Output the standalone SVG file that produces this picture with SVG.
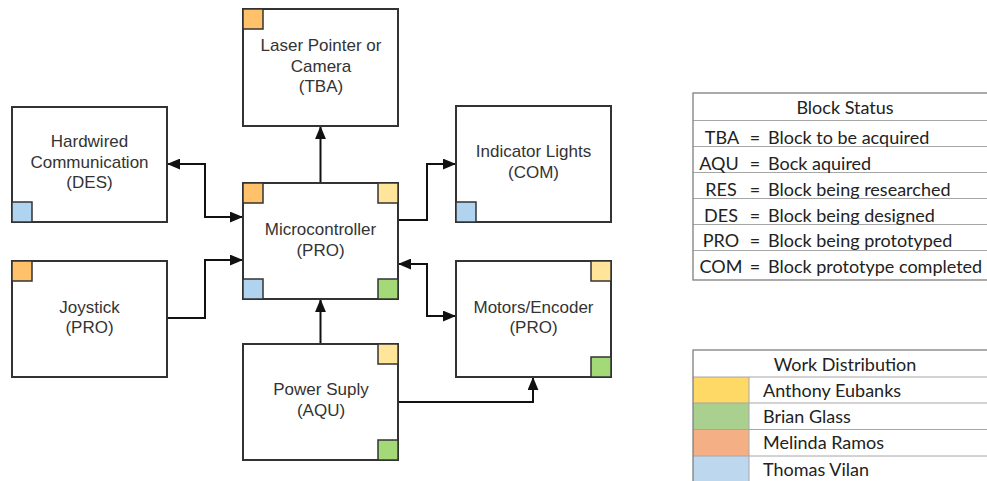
<svg xmlns="http://www.w3.org/2000/svg" width="987" height="481" viewBox="0 0 987 481">
<style>
.box{fill:#fff;stroke:#333;stroke-width:2}
.sq{stroke:#333;stroke-width:1.5}
.or{fill:#FFC16A}
.ye{fill:#FFE599}
.gr{fill:#A3D977}
.bl{fill:#B0D4EF}
.lbl{font-family:"Liberation Sans",Arial,sans-serif;font-size:17px;fill:#333;text-anchor:middle}
.wire{fill:none;stroke:#111;stroke-width:2}
.tt{font-family:Lato,"Open Sans",sans-serif;font-size:18px;fill:#222}
.tline{stroke:#a6a6a6;stroke-width:1}
.tbord{fill:none;stroke:#7f7f7f;stroke-width:1.3}
</style>
<defs>
<marker id="ah" viewBox="0 0 12 10" refX="12" refY="5" markerWidth="13" markerHeight="11" markerUnits="userSpaceOnUse" orient="auto-start-reverse">
<path d="M0,0 L12,5 L0,10 Z" fill="#111"/>
</marker>
</defs>

<g id="connectors">
<path class="wire" d="M320.5,183 L320.5,126" marker-end="url(#ah)"/>
<path class="wire" d="M167,164 L205,164 L205,217 L243,217" marker-start="url(#ah)" marker-end="url(#ah)"/>
<path class="wire" d="M398,220 L427,220 L427,164 L456,164" marker-end="url(#ah)"/>
<path class="wire" d="M167,318 L205,318 L205,260 L243,260" marker-end="url(#ah)"/>
<path class="wire" d="M320.5,344 L320.5,299" marker-end="url(#ah)"/>
<path class="wire" d="M398,264 L427,264 L427,316 L456,316" marker-start="url(#ah)" marker-end="url(#ah)"/>
<path class="wire" d="M398,402 L533,402 L533,377" marker-end="url(#ah)"/>
</g>

<g id="laser">
<rect class="box" x="243" y="9" width="155" height="117"/>
<rect class="sq or" x="243" y="9" width="20" height="20"/>
<text class="lbl" x="321" y="51">Laser Pointer or</text>
<text class="lbl" x="321" y="71.5">Camera</text>
<text class="lbl" x="321" y="92">(TBA)</text>
</g>

<g id="hardwired">
<rect class="box" x="12" y="107" width="155" height="115"/>
<rect class="sq bl" x="12" y="202" width="20" height="20"/>
<text class="lbl" x="89.5" y="147">Hardwired</text>
<text class="lbl" x="89.5" y="167.5">Communication</text>
<text class="lbl" x="89.5" y="188">(DES)</text>
</g>

<g id="microcontroller">
<rect class="box" x="243" y="183" width="155" height="116"/>
<rect class="sq or" x="243" y="183" width="20" height="20"/>
<rect class="sq ye" x="378" y="183" width="20" height="20"/>
<rect class="sq bl" x="243" y="279" width="20" height="20"/>
<rect class="sq gr" x="378" y="279" width="20" height="20"/>
<text class="lbl" x="320.5" y="235">Microcontroller</text>
<text class="lbl" x="320.5" y="255.5">(PRO)</text>
</g>

<g id="indicator">
<rect class="box" x="456" y="106" width="155" height="116"/>
<rect class="sq bl" x="456" y="202" width="20" height="20"/>
<text class="lbl" x="533.5" y="157">Indicator Lights</text>
<text class="lbl" x="533.5" y="177.5">(COM)</text>
</g>

<g id="joystick">
<rect class="box" x="12" y="261" width="155" height="116"/>
<rect class="sq or" x="12" y="261" width="20" height="20"/>
<text class="lbl" x="89.5" y="312.5">Joystick</text>
<text class="lbl" x="89.5" y="333">(PRO)</text>
</g>

<g id="motors">
<rect class="box" x="456" y="261" width="155" height="116"/>
<rect class="sq ye" x="591" y="261" width="20" height="20"/>
<rect class="sq gr" x="591" y="357" width="20" height="20"/>
<text class="lbl" x="533.5" y="312.5">Motors/Encoder</text>
<text class="lbl" x="533.5" y="333">(PRO)</text>
</g>

<g id="power">
<rect class="box" x="243" y="344" width="155" height="116"/>
<rect class="sq ye" x="378" y="344" width="20" height="20"/>
<rect class="sq gr" x="378" y="440" width="20" height="20"/>
<text class="lbl" x="321" y="395">Power Suply</text>
<text class="lbl" x="321" y="415.5">(AQU)</text>
</g>

<g id="block-status">
<rect x="693" y="93" width="310" height="187" fill="#fff"/>
<line class="tline" x1="693" y1="120.5" x2="1003" y2="120.5"/>
<line class="tline" x1="693" y1="146.5" x2="1003" y2="146.5"/>
<line class="tline" x1="693" y1="172.5" x2="1003" y2="172.5"/>
<line class="tline" x1="693" y1="198.5" x2="1003" y2="198.5"/>
<line class="tline" x1="693" y1="224.5" x2="1003" y2="224.5"/>
<line class="tline" x1="693" y1="250.5" x2="1003" y2="250.5"/>
<rect class="tbord" x="693" y="93" width="310" height="187"/>
<text class="tt" x="845" y="114" text-anchor="middle">Block Status</text>
<g text-anchor="middle">
<text class="tt" x="722" y="144">TBA</text>
<text class="tt" x="719" y="170">AQU</text>
<text class="tt" x="721" y="196">RES</text>
<text class="tt" x="721" y="221.5">DES</text>
<text class="tt" x="721" y="247">PRO</text>
<text class="tt" x="721" y="273">COM</text>
<text class="tt" x="755" y="144">=</text>
<text class="tt" x="755" y="170">=</text>
<text class="tt" x="755" y="196">=</text>
<text class="tt" x="755" y="221.5">=</text>
<text class="tt" x="755" y="247">=</text>
<text class="tt" x="755" y="273">=</text>
</g>
<text class="tt" x="768" y="144">Block to be acquired</text>
<text class="tt" x="768" y="170">Bock aquired</text>
<text class="tt" x="768" y="196">Block being researched</text>
<text class="tt" x="768" y="221.5">Block being designed</text>
<text class="tt" x="768" y="247">Block being prototyped</text>
<text class="tt" x="768" y="273">Block prototype completed</text>
</g>

<g id="work-distribution">
<rect x="693" y="350" width="310" height="140" fill="#fff"/>
<rect x="693" y="377" width="56" height="26" fill="#FFD966"/>
<rect x="693" y="403" width="56" height="26.5" fill="#A9D08E"/>
<rect x="693" y="429.5" width="56" height="26.5" fill="#F4B084"/>
<rect x="693" y="456" width="56" height="30" fill="#BDD7EE"/>
<line class="tline" x1="693" y1="377" x2="1003" y2="377"/>
<line class="tline" x1="693" y1="403" x2="1003" y2="403"/>
<line class="tline" x1="693" y1="429.5" x2="1003" y2="429.5"/>
<line class="tline" x1="693" y1="456" x2="1003" y2="456"/>
<line class="tline" x1="749" y1="377" x2="749" y2="490"/>
<rect class="tbord" x="693" y="350" width="310" height="140"/>
<text class="tt" x="845" y="371" text-anchor="middle">Work Distribution</text>
<text class="tt" x="763" y="397">Anthony Eubanks</text>
<text class="tt" x="763" y="423">Brian Glass</text>
<text class="tt" x="763" y="449">Melinda Ramos</text>
<text class="tt" x="763" y="475.5">Thomas Vilan</text>
</g>
</svg>
